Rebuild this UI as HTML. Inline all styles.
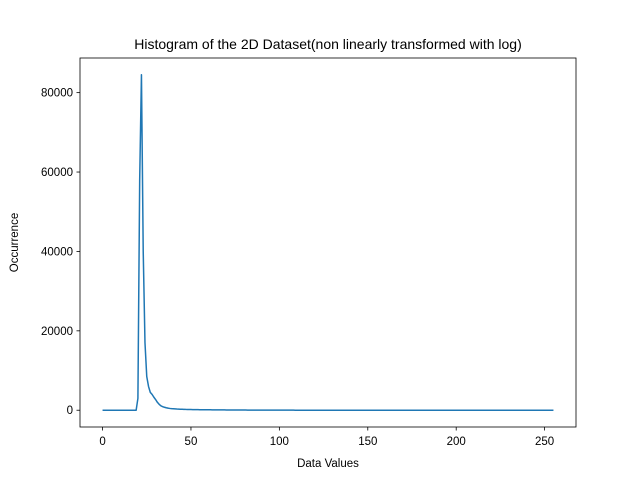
<!DOCTYPE html>
<html><head><meta charset="utf-8"><style>body{margin:0;background:#fff}svg{display:block;font-family:"Liberation Sans",sans-serif}</style></head>
<body>
<svg id="chart" width="640" height="480"></svg>
<script>
const xTicks=[0,50,100,150,200,250];
const yTicks=[0,20000,40000,60000,80000];
const yTickLabels=["0","20000","40000","60000","80000"];
const counts=[0,0,0,0,0,0,0,0,0,0,0,0,0,0,0,0,0,0,0,0,
3000,58000,84500,40000,17000,8500,6000,4500,4000,3300,
2700,2000,1500,1100,900,750,620,520,450,400,
360,330,300,280,260,240,220,200,190,180,
170,160,150,145,140,135,130,125,120,115,
110,106,102,98,94,90,86,82,78,74,
70,67,64,61,58,55,52,50,48,46,
44,42,40,38,36,34,32,30,29,28,
27,26,25,24,23,22,21,20,19,18,
17,16,15,14,13,12,12,11,11,10,
10,9,9,8,8,8,7,7,7,6,
6,6,5,5,5,5,4,4,4,4,
4,3,3,3,3,3,3,2,2,2,
2,2,2,2,2,2,1,1,1,1,
1,1,1,1,1,1,1,1,1,1,
1,1,1,1,1,1,1,1,1,1,
0,0,0,0,0,0,0,0,0,0,
0,0,0,0,0,0,0,0,0,0,
0,0,0,0,0,0,0,0,0,0,
0,0,0,0,0,0,0,0,0,0,
0,0,0,0,0,0,0,0,0,0,
0,0,0,0,0,0,0,0,0,0,
0,0,0,0,0,0,0,0,0,0,
0,0,0,0,0,0,0,0,0,0,
0,0,0,0,0,0];
const L=80,R=576,T=58,B=427;
const x0=-12.75,x1=267.75,y0=-4225,y1=88725;
const sx=v=>L+(v-x0)/(x1-x0)*(R-L);
const sy=v=>B-(v-y0)/(y1-y0)*(B-T);
const svg=document.getElementById('chart');
const NS='http://www.w3.org/2000/svg';
function mk(tag,attrs,parent){const e=document.createElementNS(NS,tag);for(const k in attrs)e.setAttribute(k,attrs[k]);(parent||svg).appendChild(e);return e;}
let d='';counts.forEach((c,i)=>{d+=(i?'L':'M')+sx(i).toFixed(2)+' '+sy(c).toFixed(2);});
const line=mk('path',{d:d,fill:'none',stroke:'#1f77b4','stroke-width':1.5,'stroke-linejoin':'round'});


const frame=mk('rect',{x:L,y:T,width:R-L,height:B-T,fill:'none',stroke:'#000','stroke-width':0.8});


xTicks.forEach(v=>{const x=sx(v);
mk('line',{x1:x,x2:x,y1:B,y2:B+3.5,stroke:'#000','stroke-width':0.8});
const t=mk('text',{x:x,y:B+18,'text-anchor':'middle','font-size':11.5});t.textContent=v;

});
yTicks.forEach((v,i)=>{const y=sy(v);
mk('line',{x1:L-3.5,x2:L,y1:y,y2:y,stroke:'#000','stroke-width':0.8});
const t=mk('text',{x:L-7,y:y+4,'text-anchor':'end','font-size':11.5});t.textContent=yTickLabels[i];

});
const title=mk('text',{x:(L+R)/2,y:T-9,'text-anchor':'middle','font-size':14});title.textContent='Histogram of the 2D Dataset(non linearly transformed with log)';


const xl=mk('text',{x:(L+R)/2,y:467,'text-anchor':'middle','font-size':11.5});xl.textContent='Data Values';


const yl=mk('text',{x:18,y:(T+B)/2,'text-anchor':'middle','font-size':11.5,transform:'rotate(-90 18 '+(T+B)/2+')'});yl.textContent='Occurrence';


</script>
</body></html>
